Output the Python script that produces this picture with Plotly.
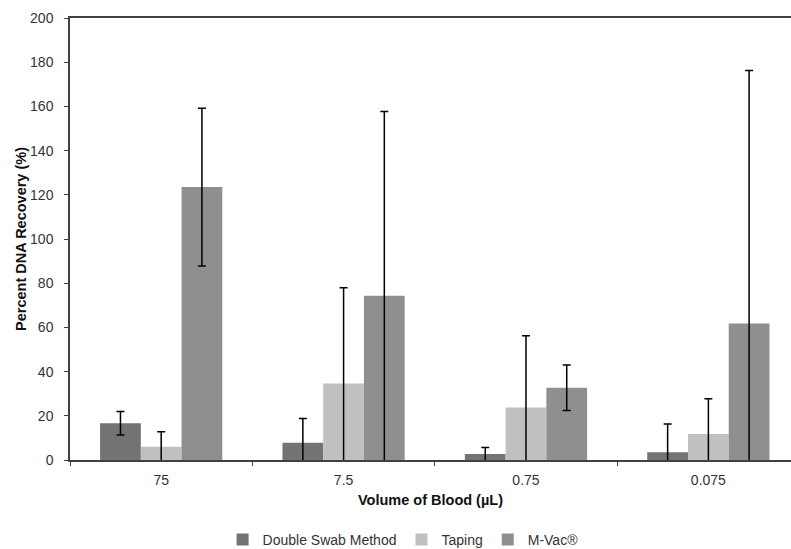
import plotly.graph_objects as go

categories = ["75", "7.5", "0.75", "0.075"]
double_swab = [16.6, 7.8, 2.7, 3.5]
double_swab_err = [5.3, 11.0, 3.0, 12.8]
taping = [6.0, 34.6, 23.8, 11.8]
taping_err = [6.8, 43.3, 32.4, 15.9]
mvac = [123.5, 74.3, 32.7, 61.8]
mvac_err = [35.7, 83.4, 10.3, 114.5]

series = [
    ("Double Swab Method", double_swab, double_swab_err, "#737373"),
    ("Taping", taping, taping_err, "#c0c0c0"),
    ("M-Vac®", mvac, mvac_err, "#8f8f8f"),
]

fig = go.Figure()
for name, vals, errs, color in series:
    fig.add_trace(go.Bar(
        name=name, x=categories, y=vals,
        marker=dict(color=color, line=dict(width=0)),
        error_y=dict(type="data", array=errs, visible=True,
                     color="black", thickness=1.5, width=4),
    ))

font_family = "Liberation Sans, Arial, sans-serif"
fig.update_layout(
    width=791, height=549,
    margin=dict(l=70, r=0, t=18, b=89, autoexpand=False),
    paper_bgcolor="white", plot_bgcolor="white",
    barmode="group", bargap=0.33, bargroupgap=0,
    font=dict(family=font_family, size=14, color="#333333"),
    legend=dict(orientation="h", x=0.462, xanchor="center",
                y=-0.181, yanchor="middle",
                font=dict(size=14, color="#333333"),
                itemwidth=30, traceorder="normal"),
    xaxis=dict(
        range=[-0.5, 3.453], showline=True, linecolor="#404040", linewidth=1.5,
        mirror=True, ticks="outside", tickson="boundaries", ticklen=4,
        tickcolor="#404040", showgrid=False, automargin=False,
        ticklabelstandoff=6,
        tickfont=dict(size=14, color="#333333"),
        title=dict(text="<b>Volume of Blood (µL)</b>", font=dict(size=14.5, color="#111111"),
                   standoff=8),
    ),
    yaxis=dict(
        range=[0, 200], dtick=20, showline=True, linecolor="#404040", linewidth=1.5,
        ticks="outside", ticklen=4, tickcolor="#404040", showgrid=False,
        zeroline=False, automargin=False, ticklabelstandoff=8,
        tickfont=dict(size=14, color="#333333"),
        title=dict(text="<b>Percent DNA Recovery (%)</b>", font=dict(size=14.5, color="#111111"),
                   standoff=0),
    ),
)

fig.write_html("out.html", config={"displayModeBar": False},
               post_script="document.body.style.margin='0';")
